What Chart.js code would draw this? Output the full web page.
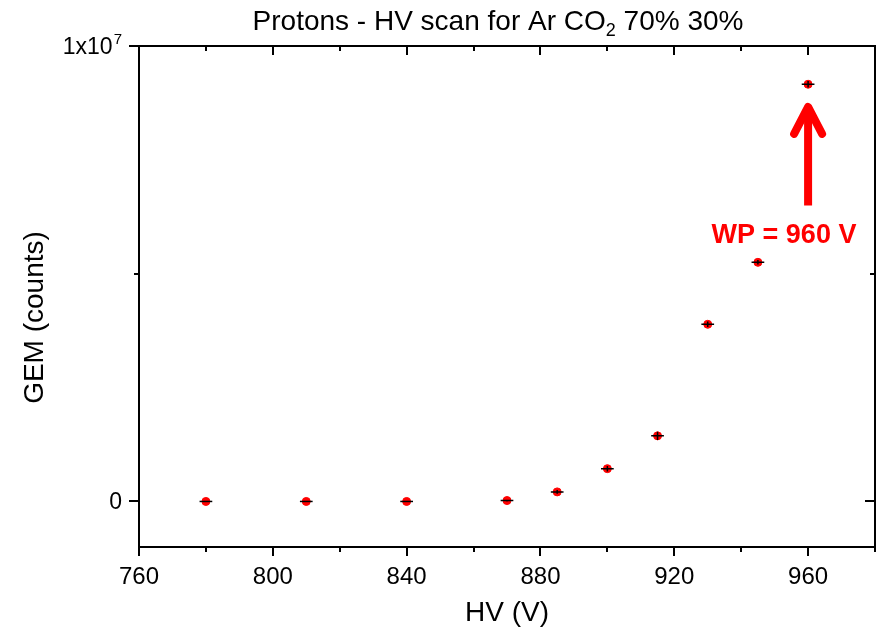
<!DOCTYPE html>
<html>
<head>
<meta charset="utf-8">
<script src="https://cdn.jsdelivr.net/npm/chart.js@4.4.1/dist/chart.umd.min.js"></script>
<style>
  html, body { margin: 0; padding: 0; background: #fff; }
  #wrap { width: 881px; height: 630px; }
</style>
</head>
<body>
<div id="wrap"><canvas id="myChart"></canvas></div>
<script>
// HV scan data (V -> GEM counts)
const hv = [780, 810, 840, 870, 885, 900, 915, 930, 945, 960];
const counts = [0, 0, 0, 0.02e6, 0.21e6, 0.72e6, 1.44e6, 3.89e6, 5.25e6, 9.16e6];
const hvErr = [1.9, 1.9, 1.9, 1.9, 1.9, 1.9, 1.9, 1.9, 1.9, 1.9];
const countsErr = [0, 0, 0, 0.02e6, 0.04e6, 0.06e6, 0.09e6, 0.06e6, 0.05e6, 0.07e6];

// axis ticks
const xLabelTicks = [760, 800, 840, 880, 920, 960];
const xMinorTicks = [780, 820, 860, 900, 940, 980];
const yLabelTicks = [0, 1e7];
const yLabelTexts = ['0', '1x10^7'];
const yMinorTicks = [5e6];

const titleParts = ['Protons - HV scan for Ar CO', '2', ' 70% 30%'];
const xTitle = 'HV (V)';
const yTitle = 'GEM (counts)';

// annotation "WP = 960 V"
const wpText = 'WP = 960 V';
const wpArrow = { x: 960, from: 6.5e6, to: 8.75e6 };
const wpLabel = { x: 952.8, y: 5.83e6 };

const FONT = '"Liberation Sans", Arial, sans-serif';

const decorPlugin = {
    id: 'decor',
    afterDatasetsDraw(chart) {
        const ctx = chart.ctx;
        const xs = chart.scales.x, ys = chart.scales.y;
        // error bars
        ctx.save();
        ctx.strokeStyle = '#000';
        ctx.lineWidth = 1.5;
        for (let i = 0; i < hv.length; i++) {
            const px = xs.getPixelForValue(hv[i]);
            const py = ys.getPixelForValue(counts[i]);
            ctx.beginPath();
            ctx.moveTo(xs.getPixelForValue(hv[i] - hvErr[i]), py);
            ctx.lineTo(xs.getPixelForValue(hv[i] + hvErr[i]), py);
            if (countsErr[i] > 0) {
                ctx.moveTo(px, ys.getPixelForValue(counts[i] - countsErr[i]));
                ctx.lineTo(px, ys.getPixelForValue(counts[i] + countsErr[i]));
            }
            ctx.stroke();
        }
        ctx.restore();
    },
    afterDraw(chart) {
        const ctx = chart.ctx;
        const a = chart.chartArea;
        const xs = chart.scales.x, ys = chart.scales.y;
        ctx.save();
        ctx.strokeStyle = '#000';
        ctx.lineWidth = 2;
        ctx.strokeRect(a.left, a.top, a.right - a.left, a.bottom - a.top);

        // x ticks: outward on bottom, inward on top
        const drawX = (v, len) => {
            const px = Math.round(xs.getPixelForValue(v));
            ctx.beginPath();
            ctx.moveTo(px, a.bottom); ctx.lineTo(px, a.bottom + len);
            ctx.moveTo(px, a.top); ctx.lineTo(px, a.top + len);
            ctx.stroke();
        };
        xLabelTicks.forEach(v => drawX(v, 9));
        xMinorTicks.forEach(v => drawX(v, 5));

        // y ticks: outward on left, inward on right
        const drawY = (v, len) => {
            const py = Math.round(ys.getPixelForValue(v));
            ctx.beginPath();
            ctx.moveTo(a.left, py); ctx.lineTo(a.left - len, py);
            ctx.moveTo(a.right, py); ctx.lineTo(a.right - len, py);
            ctx.stroke();
        };
        yLabelTicks.forEach(v => drawY(v, 10));
        yMinorTicks.forEach(v => drawY(v, 5));

        // y tick labels (with superscript)
        ctx.fillStyle = '#000';
        ctx.textBaseline = 'alphabetic';
        yLabelTicks.forEach((v, i) => {
            const py = ys.getPixelForValue(v);
            const [base, sup] = yLabelTexts[i].split('^');
            let right = a.left - 17;
            ctx.textAlign = 'right';
            if (sup) {
                ctx.font = '15px ' + FONT;
                ctx.fillText(sup, right, py - 2);
                right -= ctx.measureText(sup).width + 1;
            }
            ctx.font = '23px ' + FONT;
            ctx.fillText(base, right, py + 8);
        });

        // title with subscript
        ctx.textAlign = 'left';
        const bigF = '28px ' + FONT, smallF = '18px ' + FONT;
        ctx.font = bigF;
        const w0 = ctx.measureText(titleParts[0]).width;
        const w2 = ctx.measureText(titleParts[2]).width;
        ctx.font = smallF;
        const w1 = ctx.measureText(titleParts[1]).width;
        let tx = (a.left + a.right) / 2 - 9 - (w0 + w1 + w2) / 2;
        const ty = 30;
        ctx.font = bigF;
        ctx.fillText(titleParts[0], tx, ty);
        ctx.font = smallF;
        ctx.fillText(titleParts[1], tx + w0, ty + 6);
        ctx.font = bigF;
        ctx.fillText(titleParts[2], tx + w0 + w1, ty);

        // axis titles
        ctx.font = '28px ' + FONT;
        ctx.textAlign = 'center';
        ctx.textBaseline = 'middle';
        ctx.fillText(xTitle, (a.left + a.right) / 2, 613);
        ctx.save();
        ctx.translate(35, (a.top + a.bottom) / 2 + 21);
        ctx.rotate(-Math.PI / 2);
        ctx.fillText(yTitle, 0, 0);
        ctx.restore();

        // WP arrow
        const ax = xs.getPixelForValue(wpArrow.x);
        const ay0 = ys.getPixelForValue(wpArrow.from);
        const ay1 = ys.getPixelForValue(wpArrow.to);
        ctx.strokeStyle = '#ff0000';
        ctx.lineWidth = 8;
        ctx.beginPath();
        ctx.moveTo(ax, ay0); ctx.lineTo(ax, ay1 + 4);
        ctx.stroke();
        ctx.lineCap = 'round';
        ctx.lineJoin = 'round';
        ctx.beginPath();
        ctx.moveTo(ax - 14, ay1 + 31);
        ctx.lineTo(ax, ay1 + 4);
        ctx.lineTo(ax + 14, ay1 + 31);
        ctx.stroke();

        ctx.fillStyle = '#ff0000';
        ctx.font = 'bold 27px ' + FONT;
        ctx.fillText(wpText, xs.getPixelForValue(wpLabel.x), ys.getPixelForValue(wpLabel.y));
        ctx.restore();
    }
};

const ctx = document.getElementById('myChart').getContext('2d');
const chart = new Chart(ctx, {
    type: 'scatter',
    data: {
        datasets: [{
            label: 'GEM counts',
            data: hv.map((v, i) => ({ x: v, y: counts[i] })),
            backgroundColor: '#ff0000',
            borderColor: '#ff0000',
            pointRadius: 4,
            pointHoverRadius: 4
        }]
    },
    options: {
        responsive: true,
        maintainAspectRatio: false,
        animation: false,
        layout: { padding: { top: 46, right: 6, left: 0, bottom: 0 } },
        plugins: {
            legend: { display: false },
            tooltip: { enabled: false }
        },
        scales: {
            x: {
                type: 'linear',
                min: 760,
                max: 980,
                afterBuildTicks: s => { s.ticks = xLabelTicks.map(v => ({ value: v })); },
                afterFit: s => { s.height = 83; },
                grid: { display: false, drawTicks: false },
                border: { display: false },
                ticks: {
                    color: '#000',
                    padding: 16,
                    maxRotation: 0,
                    font: { family: FONT, size: 24 }
                }
            },
            y: {
                type: 'linear',
                min: -1e6,
                max: 1e7,
                afterBuildTicks: s => { s.ticks = yLabelTicks.map(v => ({ value: v })); },
                afterFit: s => { s.width = 139; },
                grid: { display: false, drawTicks: false },
                border: { display: false },
                ticks: { display: false }
            }
        }
    },
    plugins: [decorPlugin]
});
</script>
</body>
</html>
